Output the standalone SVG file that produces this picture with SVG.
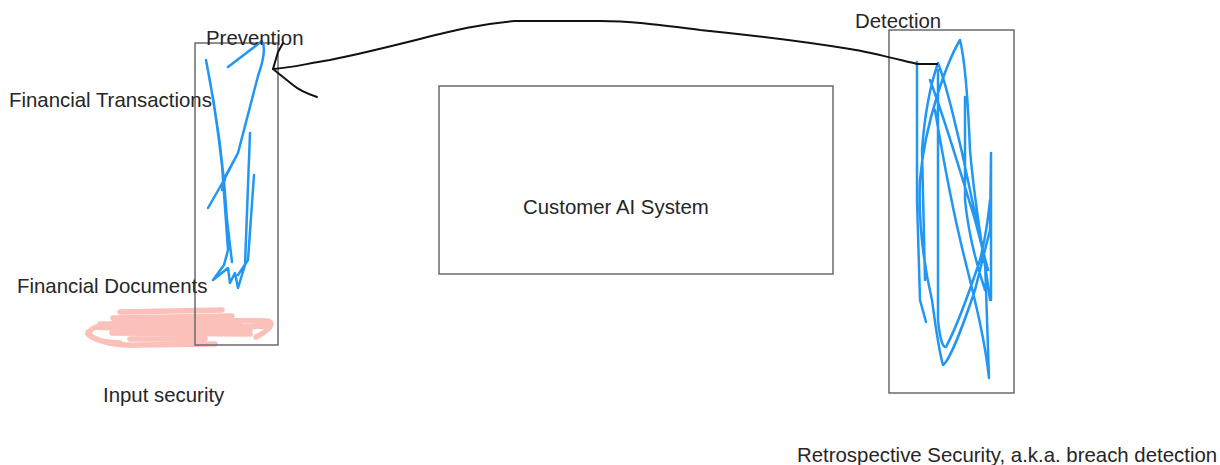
<svg xmlns="http://www.w3.org/2000/svg" width="1220" height="465" viewBox="0 0 1220 465">
<style>
.box{fill:none;stroke:#6b6b6b;stroke-width:1.5}
.lbl{font-family:"Liberation Sans",Arial,sans-serif;font-size:20.4px;fill:#262626}
.blue{fill:none;stroke:#2196f3;stroke-width:2.5;stroke-linecap:round;stroke-linejoin:round}
.pink{fill:none;stroke:#fbbdb6;stroke-width:5.5;stroke-linecap:round;stroke-linejoin:round;opacity:0.95}
.ink{fill:none;stroke:#111;stroke-width:2;stroke-linecap:round;stroke-linejoin:round}
</style>
<rect width="1220" height="465" fill="#fff"/>
<g id="input-security">
<path class="pink" d="M120,312 L222,310 M113,318 L232,316 M90,331 C96,322 150,319 200,320 L268,321 C276,324 266,332 256,337 M88,334 C95,341 115,346 140,345 L215,344 M100,324 L240,325 M112,333 L250,334 M130,339 L205,339 M96,327 C140,330 200,328 266,326 M150,322 C180,329 220,332 250,331 M88,332 C90,338 100,342 120,343"/>
<text class="lbl" x="103" y="402">Input security</text>
</g>
<g id="prevention">
<rect class="box" x="195" y="43" width="83" height="302"/>
<path class="blue" d="M228,67 L262,41 C266,48 263,62 258,76 L238,153 L224,180 L208,208 M206,60 C212,90 218,130 222,165 L228,250 L224,265 L213,280 L228,268 L230,283 L235,273 L238,288 L245,265 L250,133 M206,60 C214,100 223,150 227,220 L232,262 M254,175 L248,260 L238,275 M238,153 L226,175 L222,190"/>
<text class="lbl" x="206" y="45">Prevention</text>
</g>
<g id="financial-transactions">
<text class="lbl" x="9" y="107">Financial Transactions</text>
</g>
<g id="financial-documents">
<text class="lbl" x="17" y="293">Financial Documents</text>
</g>
<g id="customer-ai-system">
<rect class="box" x="439" y="86" width="394" height="188"/>
<text class="lbl" x="523" y="214">Customer AI System</text>
</g>
<g id="detection">
<rect class="box" x="889" y="30" width="125" height="363"/>
<path class="blue" d="M917,62 L917,200 L920,300 L926,322 M960,40 C948,60 925,120 920,180 C918,230 925,270 932,300 C936,330 940,355 943,365 C950,360 965,320 975,290 L990,230 L991,153 L991,300 M938,63 C932,80 925,110 922,150 L925,280 M938,63 C945,80 960,140 970,190 L985,260 L989,378 C985,340 975,300 965,260 C955,220 945,170 935,110 M965,97 L965,200 C968,230 975,260 985,290 M938,70 L938,320 C940,340 943,348 946,347 C955,330 970,290 980,260 C985,240 988,220 990,200 M960,40 C965,60 968,100 970,150 C975,210 985,260 990,300 M930,80 C945,120 960,170 975,220 L988,270"/>
<text class="lbl" x="855" y="28">Detection</text>
</g>
<g id="retrospective-security">
<text class="lbl" x="797" y="462">Retrospective Security, a.k.a. breach detection</text>
</g>
<g id="connectors">
<path class="ink" d="M937,64 L917,64 C900,60 870,52 850,49 C800,41 760,36 700,30 C660,25 630,21 600,21 L515,21 C480,24 455,30 420,39 C380,49 350,56 330,60 C305,64 290,68 273,69"/>
<path class="ink" d="M283,43 L278,52 L273,69 L293,85 C300,91 308,94 317,97"/>
</g>
</svg>
